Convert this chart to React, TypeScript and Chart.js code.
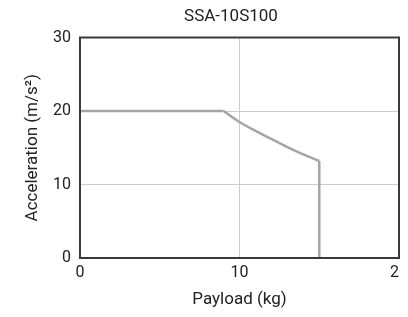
import React, { useEffect, useRef } from "react";
import { Chart, registerables } from "chart.js";

Chart.register(...registerables);

const chartTitle = "SSA-10S100";
const xAxisTitle = "Payload (kg)";
const yAxisTitle = "Acceleration (m/s²)";
const flatPayloadKg = [0, 9];
const flatAcceleration = [20, 20];
const curvePayloadKg = [9, 10, 11, 12, 13, 14, 15];
const curveAcceleration = [20, 18.5, 17.3, 16.2, 15.1, 14.1, 13.2];
const dropPayloadKg = [15, 15];
const dropAcceleration = [13.2, 0];
const xTickRange = [0, 20];
const yTickRange = [0, 30];
const tickStep = 10;

const FONT = "Roboto, 'DejaVu Sans', sans-serif";
const LINE = "#a5a5a5";

const boxPlugin = {
  id: "boxPlugin",
  afterDatasetsDraw(chart: any) {
    const { ctx, chartArea } = chart;
    ctx.save();
    ctx.strokeStyle = "#3a3a3a";
    ctx.lineWidth = 2;
    ctx.strokeRect(chartArea.left, chartArea.top, chartArea.right - chartArea.left, chartArea.bottom - chartArea.top);
    ctx.restore();
  },
};

// Title drawn slightly left of the plot centre, as in the reference
const titlePlugin = {
  id: "titlePlugin",
  afterDraw(chart: any) {
    const { ctx, chartArea } = chart;
    ctx.save();
    ctx.fillStyle = "#222";
    ctx.font = `17px ${FONT}`;
    ctx.textAlign = "center";
    ctx.textBaseline = "middle";
    ctx.fillText(chartTitle, (chartArea.left + chartArea.right) / 2 - 8.5, 8.5);
    ctx.restore();
  },
};

const toPts = (xs: number[], ys: number[]) => xs.map((x, i) => ({ x, y: ys[i] }));

export default function App() {
  const ref = useRef<HTMLCanvasElement | null>(null);
  useEffect(() => {
    if (!ref.current) return;
    const base = { borderColor: LINE, borderWidth: 2.5, pointRadius: 0, fill: false };
    const chart = new Chart(ref.current, {
      type: "line",
      data: {
        datasets: [
          { ...base, data: toPts(flatPayloadKg, flatAcceleration), tension: 0 },
          { ...base, data: toPts(curvePayloadKg, curveAcceleration), cubicInterpolationMode: "monotone" },
          { ...base, data: toPts(dropPayloadKg, dropAcceleration), tension: 0 },
        ],
      },
      options: {
        responsive: false,
        animation: false,
        layout: { padding: { left: 15, right: 40, top: 0, bottom: 0.5 } },
        plugins: {
          legend: { display: false },
          tooltip: { enabled: false },
          title: {
            display: true,
            text: chartTitle,
            color: "rgba(0,0,0,0)",
            font: { family: FONT, size: 17, weight: "normal", lineHeight: 1 },
            padding: { top: 0, bottom: 12.5 },
          },
        },
        scales: {
          x: {
            type: "linear",
            min: xTickRange[0],
            max: xTickRange[1],
            ticks: { stepSize: tickStep, color: "#222", padding: 5, font: { family: FONT, size: 16 }, maxRotation: 0 },
            grid: { color: "#cccccc", drawTicks: false, lineWidth: 1 },
            border: { display: false },
            title: { display: true, text: xAxisTitle, color: "#222", font: { family: FONT, size: 17, lineHeight: 1 }, padding: { top: 4.3, bottom: 0 } },
          },
          y: {
            type: "linear",
            min: yTickRange[0],
            max: yTickRange[1],
            ticks: { stepSize: tickStep, color: "#222", padding: 9, font: { family: FONT, size: 16 } },
            grid: { color: "#cccccc", drawTicks: false, lineWidth: 1 },
            border: { display: false },
            title: { display: true, text: yAxisTitle, color: "#222", font: { family: FONT, size: 17 }, padding: { top: 0, bottom: 0.6 } },
          },
        },
      },
      plugins: [boxPlugin, titlePlugin],
    });
    return () => chart.destroy();
  }, []);
  return (
    <div style={{ width: 400, height: 301, overflow: "hidden" }}>
      <canvas ref={ref} width={431} height={301} style={{ display: "block" }} />
    </div>
  );
}
